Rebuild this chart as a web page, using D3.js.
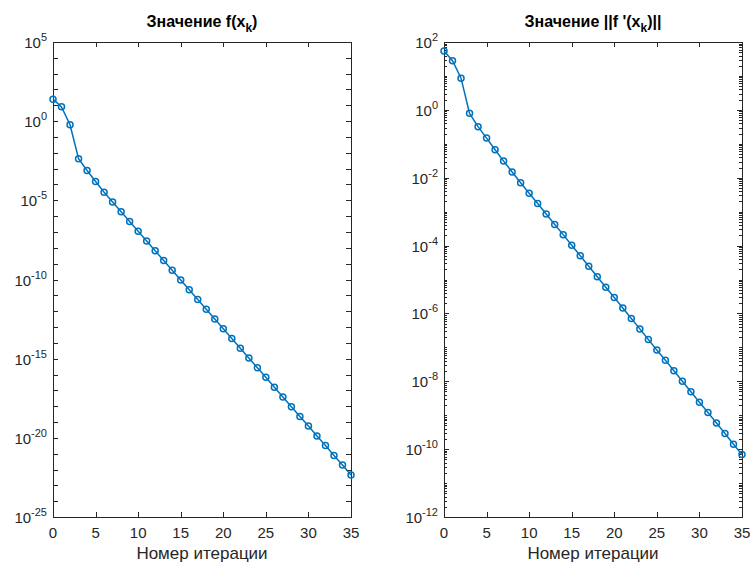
<!DOCTYPE html>
<html>
  <head>
    <meta charset="utf-8">
    <title>Значение f и градиента</title>
    <style>
      body { margin: 0; padding: 0; background: #fff; font-family: 'Liberation Sans', Arial, sans-serif; }
      svg text { font-family: 'Liberation Sans', Arial, sans-serif; }
    </style>
  </head>
  <body>
    <div id="chart"></div>
    <script src="https://cdnjs.cloudflare.com/ajax/libs/d3/7.8.5/d3.min.js"></script>
    <script>
      // iteration numbers 0..35
      const iterations = [0, 1, 2, 3, 4, 5, 6, 7, 8, 9, 10, 11, 12, 13, 14, 15, 16, 17,
                          18, 19, 20, 21, 22, 23, 24, 25, 26, 27, 28, 29, 30, 31, 32, 33, 34, 35];

      // f(x_k)
      const fValues = [24.5, 8.0, 0.59, 4.2e-3, 7.6e-4, 1.55e-4, 3.24e-5, 7.76e-6, 1.91e-6,
                       4.57e-7, 1.12e-7, 2.69e-8, 6.61e-9, 1.58e-9, 3.89e-10, 9.33e-11,
                       2.24e-11, 5.50e-12, 1.32e-12, 3.24e-13, 7.76e-14, 1.91e-14, 4.57e-15,
                       1.12e-15, 2.69e-16, 6.61e-17, 1.58e-17, 3.80e-18, 9.33e-19, 2.24e-19,
                       5.50e-20, 1.32e-20, 3.24e-21, 7.76e-22, 1.91e-22, 4.57e-23];

      // ||f'(x_k)||
      const gradValues = [54, 28, 8.6, 0.79, 0.32, 0.147, 0.0667, 0.0309, 0.0148, 7.1e-3,
                          3.5e-3, 1.74e-3, 8.5e-4, 4.2e-4, 2.1e-4, 1.02e-4, 5.0e-5, 2.45e-5,
                          1.20e-5, 5.9e-6, 2.95e-6, 1.45e-6, 7.1e-7, 3.5e-7, 1.70e-7, 8.3e-8,
                          4.2e-8, 2.04e-8, 1.0e-8, 4.9e-9, 2.4e-9, 1.2e-9, 5.9e-10, 2.9e-10,
                          1.4e-10, 6.9e-11];

      const xTicks = [0, 5, 10, 15, 20, 25, 30, 35];
      const fTickExps = [5, 0, -5, -10, -15, -20, -25];
      const gradTickExps = [2, 0, -2, -4, -6, -8, -10, -12];

      const W = 752, H = 566;
      const lineColor = '#0072BD';
      const axisColor = '#262626';

      const svg = d3.select('#chart').append('svg')
        .attr('width', W).attr('height', H);

      function panel(opts) {
        const { left, right, top, bottom, values, yDomain, tickExps, minorAll, title } = opts;
        const g = svg.append('g');

        const x = d3.scaleLinear().domain([0, 35]).range([left, right]);
        const y = d3.scaleLog().domain(yDomain).range([bottom, top]);

        // minor y ticks
        let minor = [];
        const lo = Math.round(Math.log10(yDomain[0])), hi = Math.round(Math.log10(yDomain[1]));
        for (let e = lo; e <= hi; e++) {
          if (minorAll) {
            for (let m = 1; m < 10; m++) {
              const v = m * Math.pow(10, e);
              if (v <= yDomain[1]) minor.push(v);
            }
          } else {
            minor.push(Math.pow(10, e));
          }
        }
        const tickLen = 5;
        const minorLen = minorAll ? 3 : 5;
        g.selectAll('.ymin').data(minor).enter().append('g').each(function (v) {
          const s = d3.select(this);
          const yy = Math.round(y(v)) + 0.5;
          s.append('line').attr('x1', left).attr('x2', left + minorLen).attr('y1', yy).attr('y2', yy);
          s.append('line').attr('x1', right).attr('x2', right - minorLen).attr('y1', yy).attr('y2', yy);
        }).attr('stroke', axisColor).attr('stroke-width', 1);

        // major y ticks
        g.selectAll('.ymaj').data(tickExps).enter().append('g').each(function (e) {
          const s = d3.select(this);
          const yy = Math.round(y(Math.pow(10, e))) + 0.5;
          s.append('line').attr('x1', left).attr('x2', left + tickLen).attr('y1', yy).attr('y2', yy);
          s.append('line').attr('x1', right).attr('x2', right - tickLen).attr('y1', yy).attr('y2', yy);
        }).attr('stroke', axisColor).attr('stroke-width', 1);

        // x ticks, bottom and top
        g.selectAll('.xt').data(xTicks).enter().append('g').each(function (t) {
          const s = d3.select(this);
          const xx = Math.round(x(t)) + 0.5;
          s.append('line').attr('x1', xx).attr('x2', xx).attr('y1', bottom).attr('y2', bottom - tickLen);
          s.append('line').attr('x1', xx).attr('x2', xx).attr('y1', top).attr('y2', top + tickLen);
        }).attr('stroke', axisColor).attr('stroke-width', 1);

        // box
        g.append('rect')
          .attr('x', left + 0.5).attr('y', top + 0.5)
          .attr('width', right - left).attr('height', bottom - top)
          .attr('fill', 'none').attr('stroke', axisColor).attr('stroke-width', 1);

        // y tick labels 10^e
        const yl = g.selectAll('.yl').data(tickExps).enter().append('text')
          .attr('x', left - 6)
          .attr('y', e => y(Math.pow(10, e)) + 6)
          .attr('text-anchor', 'end')
          .attr('font-size', 15)
          .attr('fill', axisColor);
        yl.append('tspan').text('10');
        yl.append('tspan').attr('dy', -7).attr('font-size', 11).text(e => String(e));

        // x tick labels
        g.selectAll('.xl').data(xTicks).enter().append('text')
          .attr('x', t => x(t))
          .attr('y', bottom + 21)
          .attr('text-anchor', 'middle')
          .attr('font-size', 15)
          .attr('fill', axisColor)
          .text(t => t);

        // x label
        g.append('text')
          .attr('x', (left + right) / 2)
          .attr('y', bottom + 42)
          .attr('text-anchor', 'middle')
          .attr('font-size', 17)
          .attr('fill', axisColor)
          .text('Номер итерации');

        // title
        const tt = g.append('text')
          .attr('x', (left + right) / 2)
          .attr('y', 27)
          .attr('text-anchor', 'middle')
          .attr('font-size', 16)
          .attr('font-weight', 'bold')
          .attr('fill', '#000');
        tt.append('tspan').text(title[0]);
        tt.append('tspan').attr('dy', 5).attr('font-size', 12).text('k');
        tt.append('tspan').attr('dy', -5).text(title[1]);

        // data line
        const pts = iterations.map((k, i) => [k, values[i]]);
        g.append('path')
          .datum(pts)
          .attr('fill', 'none')
          .attr('stroke', lineColor)
          .attr('stroke-width', 1.5)
          .attr('d', d3.line().x(d => x(d[0])).y(d => y(d[1])));

        g.selectAll('.m').data(pts).enter().append('circle')
          .attr('cx', d => x(d[0]))
          .attr('cy', d => y(d[1]))
          .attr('r', 3)
          .attr('fill', 'none')
          .attr('stroke', lineColor)
          .attr('stroke-width', 1.5);
      }

      panel({
        left: 53, right: 351, top: 42, bottom: 517,
        values: fValues, yDomain: [1e-25, 1e5], tickExps: fTickExps, minorAll: false,
        title: ['Значение f(x', ')']
      });

      panel({
        left: 444, right: 742, top: 42, bottom: 517,
        values: gradValues, yDomain: [1e-12, 1e2], tickExps: gradTickExps, minorAll: true,
        title: ["Значение ||f '(x", ')||']
      });
    </script>
  </body>
</html>
